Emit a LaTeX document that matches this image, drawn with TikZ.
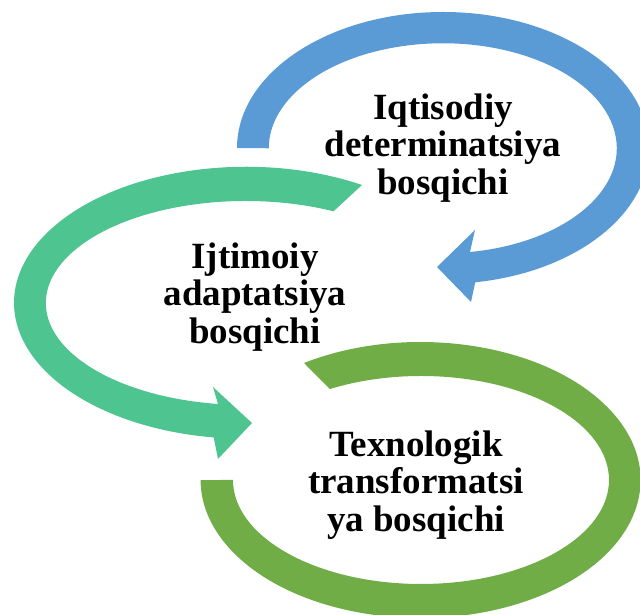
\documentclass[tikz,border=0pt]{standalone}
\usepackage{fontspec}
\setmainfont{Liberation Serif}
\usepackage{xcolor}
\usepackage{tikz}
\definecolor{arrowblue}{RGB}{91,155,213}
\definecolor{arrowteal}{RGB}{78,197,145}
\definecolor{arrowgreen}{RGB}{112,173,71}
\tikzset{
  stage/.style={font=\fontsize{26.3}{26.8}\selectfont\bfseries, align=center, inner sep=0pt},
}

\begin{document}
\begin{tikzpicture}[x=0.025cm, y=0.025cm]
  \useasboundingbox (0,0) rectangle (640,615);
  \begin{scope}
    \clip (0,0) rectangle (640,615);
    \fill[arrowblue] (237,467) arc[start angle=180, end angle=-81, x radius=206, y radius=136]
      -- (471,313) -- (437,348) -- (475,385) -- (470,363)
      arc[start angle=-81, end angle=180, x radius=174, y radius=105] -- cycle;
    \fill[arrowteal] (362,430) arc[start angle=60, end angle=262, x radius=232, y radius=136]
      -- (218,156) -- (252,192) -- (213,228) -- (218,211)
      arc[start angle=262, end angle=64, x radius=200, y radius=102] -- cycle;
    \fill[arrowgreen] (304,252) arc[start angle=122, end angle=-180, x radius=220, y radius=138]
      -- (233,135)
      arc[start angle=-180, end angle=119, x radius=188, y radius=104] -- cycle;
  \end{scope}
  \node[stage] (iqt) at (443,467) {Iqtisodiy\\determinatsiya\\bosqichi};
  \node[stage] (ijt) at (255,318) {Ijtimoiy\\adaptatsiya\\bosqichi};
  \node[stage] (tex) at (416,130) {Texnologik\\transformatsi\\ya bosqichi};
\end{tikzpicture}
\end{document}
